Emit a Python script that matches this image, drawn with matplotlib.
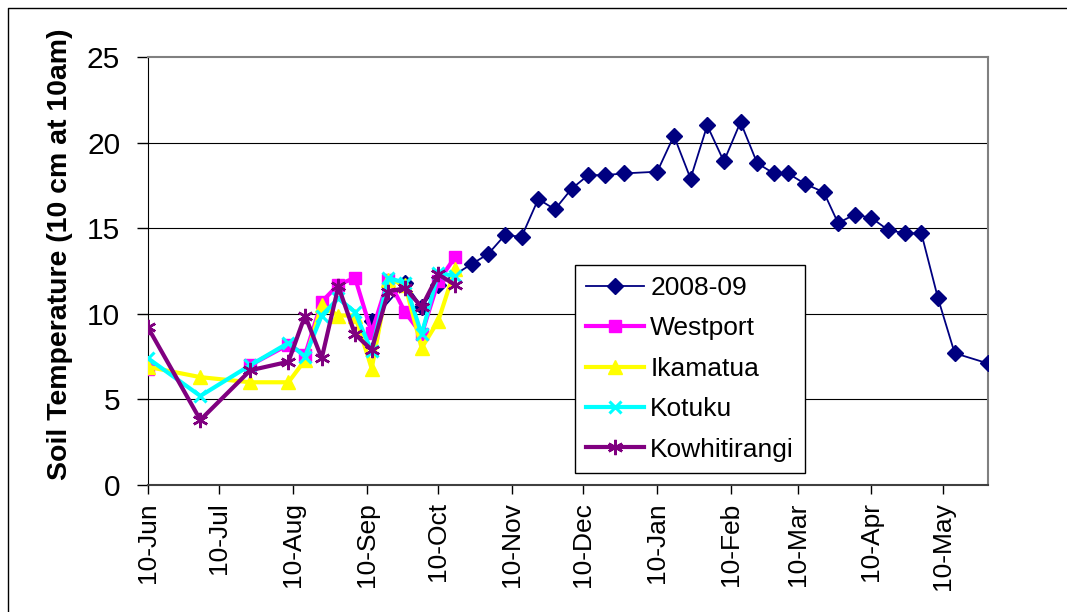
import matplotlib
matplotlib.use("Agg")
import matplotlib.pyplot as plt
import matplotlib.dates as mdates
from matplotlib.lines import Line2D
import numpy as np
import pandas as pd

plt.rcParams["font.family"] = ["Liberation Sans", "DejaVu Sans"]

# 2008-09 season (navy diamonds)
season_dates = ["2008-09-12", "2008-09-26", "2008-10-03", "2008-10-10", "2008-10-24",
                "2008-10-31", "2008-11-07", "2008-11-14", "2008-11-21", "2008-11-28",
                "2008-12-05", "2008-12-12", "2008-12-19", "2008-12-27", "2009-01-10",
                "2009-01-17", "2009-01-24", "2009-01-31", "2009-02-07", "2009-02-14",
                "2009-02-21", "2009-02-28", "2009-03-06", "2009-03-13", "2009-03-21",
                "2009-03-27", "2009-04-03", "2009-04-10", "2009-04-17", "2009-04-24",
                "2009-05-01", "2009-05-08", "2009-05-15", "2009-05-29"]
season_vals = [9.6, 11.8, 10.4, 11.7, 12.9, 13.5, 14.6, 14.5, 16.7, 16.1,
               17.3, 18.1, 18.1, 18.2, 18.3, 20.4, 17.9, 21.0, 18.9, 21.2,
               18.8, 18.2, 18.2, 17.6, 17.1, 15.3, 15.8, 15.6, 14.9, 14.7,
               14.7, 10.9, 7.7, 7.1]

# site readings
site_dates = ["2008-06-10", "2008-07-02", "2008-07-23", "2008-08-08", "2008-08-15",
              "2008-08-22", "2008-08-29", "2008-09-05", "2008-09-12", "2008-09-19",
              "2008-09-26", "2008-10-03", "2008-10-10", "2008-10-17"]
westport = [6.8, np.nan, 7.0, 8.2, 7.6, 10.7, 11.7, 12.1, 8.9, 12.0, 10.1, 8.8, 11.9, 13.3]
ikamatua = [6.9, 6.3, 6.0, 6.0, 7.3, 10.5, 9.9, 9.9, 6.8, 12.0, 11.7, 8.0, 9.6, 12.6]
kotuku = [7.4, 5.2, 7.0, 8.3, 7.5, 9.9, 10.9, 10.1, 7.8, 12.1, 11.8, 8.8, 12.4, 12.2]
kowhitirangi = [9.2, 3.8, 6.7, 7.2, 9.9, 7.4, 11.6, 8.8, 7.9, 11.3, 11.5, 10.4, 12.3, 11.7]

x_start, x_end = "2008-06-10", "2009-05-29"

# %%
fig = plt.figure(figsize=(10.67, 6.12), dpi=100)
ax = fig.add_axes([148 / 1067, 1 - 485 / 612, (988 - 148) / 1067, (485 - 57) / 612])

sd = pd.to_datetime(season_dates)
td = pd.to_datetime(site_dates)

ax.plot(sd, season_vals, color="#000080", lw=1.3, marker="D", ms=8,
        label="2008-09", zorder=3)
ax.plot(td, westport, color="#FF00FF", lw=3, marker="s", ms=8,
        label="Westport", zorder=4)
ax.plot(td, ikamatua, color="#FFFF00", lw=3, marker="^", ms=10,
        label="Ikamatua", zorder=5)
ax.plot(td, kotuku, color="#00FFFF", lw=3, marker="x", ms=9, mew=2.2,
        label="Kotuku", zorder=6)
ax.plot(td, kowhitirangi, color="#800080", lw=3, marker=(6, 2, 0), ms=11, mew=1.8,
        label="Kowhitirangi", zorder=7)

ax.set_ylim(0, 25)
ax.set_yticks([0, 5, 10, 15, 20, 25])
ax.set_xlim(pd.Timestamp(x_start), pd.Timestamp(x_end))
ax.xaxis.set_major_locator(mdates.MonthLocator(bymonthday=10))
ax.xaxis.set_major_formatter(mdates.DateFormatter("%d-%b"))

for yv in [5, 10, 15, 20]:
    ax.axhline(yv, color="black", lw=0.8, zorder=1)

ax.tick_params(axis="y", direction="out", length=8, width=1, pad=12, labelsize=21.5)
ax.tick_params(axis="x", direction="out", length=6.5, width=1, pad=6, labelsize=19,
               labelrotation=90)
for s in ["top", "right"]:
    ax.spines[s].set_color("#808080")
    ax.spines[s].set_linewidth(1.5)
ax.spines["left"].set_color("black")
ax.spines["bottom"].set_color("#404040")
ax.spines["bottom"].set_linewidth(1.5)

ax.set_ylabel("Soil Temperature (10 cm at 10am)", fontsize=20.5, fontweight="bold")
ax.yaxis.set_label_coords(-0.089, 0.54)

leg = ax.legend(loc="upper left", bbox_to_anchor=(575 / 1067, 1 - 265 / 612),
                bbox_transform=fig.transFigure, fontsize=19, frameon=True,
                fancybox=False, framealpha=1, edgecolor="black",
                handlelength=2.2, handletextpad=0.23, labelspacing=0.62,
                borderpad=0.42, borderaxespad=0)
leg.get_frame().set_linewidth(1)

# outer frame of the chart object
fig.add_artist(Line2D([8 / 1067, 8 / 1067, 1.0], [0.0, 1 - 8 / 612, 1 - 8 / 612],
                      transform=fig.transFigure, color="black", lw=1))

fig.savefig("out.png", dpi=100)
